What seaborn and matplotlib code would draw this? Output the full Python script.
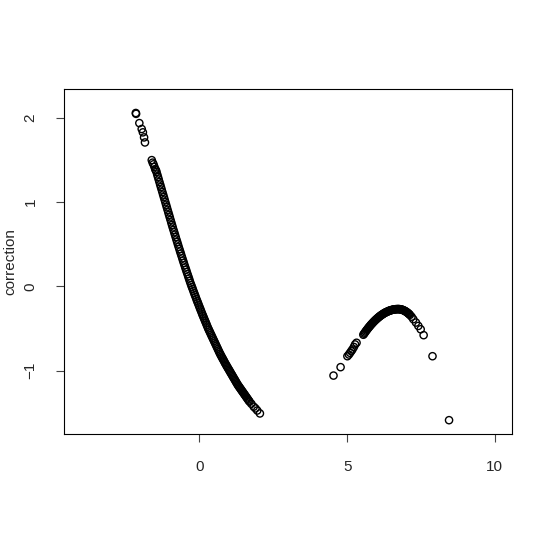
import numpy as np
import pandas as pd
import matplotlib
matplotlib.use("Agg")
import matplotlib.pyplot as plt
import seaborn as sns

# left branch: sparse top, dense band, sparse tail
x_left = [-2.15, -2.14, -2.03, -1.95, -1.91, -1.87, -1.84,
          -1.61, -1.58, -1.55, -1.52, -1.49, -1.47,
          -1.450, -1.425, -1.400, -1.375, -1.350, -1.325, -1.300, -1.275, -1.250, -1.225,
          -1.200, -1.175, -1.150, -1.125, -1.100, -1.075, -1.050, -1.025, -1.000, -0.975,
          -0.950, -0.925, -0.900, -0.875, -0.850, -0.825, -0.800, -0.775, -0.750, -0.725,
          -0.700, -0.675, -0.650, -0.625, -0.600, -0.575, -0.550, -0.525, -0.500, -0.475,
          -0.450, -0.425, -0.400, -0.375, -0.350, -0.325, -0.300, -0.275, -0.250, -0.225,
          -0.200, -0.175, -0.150, -0.125, -0.100, -0.075, -0.050, -0.025, 0.000, 0.025,
          0.050, 0.075, 0.100, 0.125, 0.150, 0.175, 0.200, 0.225, 0.250, 0.275,
          0.300, 0.325, 0.350, 0.375, 0.400, 0.425, 0.450, 0.475, 0.500, 0.525,
          0.550, 0.575, 0.600, 0.625, 0.650, 0.675, 0.700, 0.725, 0.750, 0.775,
          0.800, 0.825, 0.850, 0.875, 0.900, 0.925, 0.950, 0.975, 1.000, 1.025,
          1.050, 1.075, 1.100, 1.125, 1.150, 1.175, 1.200, 1.225, 1.250, 1.275,
          1.300, 1.325, 1.350, 1.375, 1.400, 1.425, 1.450, 1.475, 1.500, 1.525,
          1.550, 1.575, 1.600, 1.625, 1.650, 1.675, 1.700,
          1.76, 1.84, 1.90, 1.96, 2.05]
y_left = [2.06, 2.05, 1.94, 1.87, 1.83, 1.77, 1.71,
          1.50, 1.47, 1.45, 1.42, 1.39, 1.38,
          1.360, 1.330, 1.300, 1.270, 1.240, 1.210, 1.180, 1.150, 1.120, 1.090,
          1.060, 1.030, 1.000, 0.970, 0.940, 0.910, 0.880, 0.850, 0.820, 0.790,
          0.760, 0.730, 0.700, 0.671, 0.643, 0.614, 0.585, 0.556, 0.528, 0.499,
          0.470, 0.443, 0.415, 0.388, 0.360, 0.333, 0.305, 0.278, 0.250, 0.224,
          0.198, 0.171, 0.145, 0.119, 0.093, 0.066, 0.040, 0.016, -0.008, -0.031,
          -0.055, -0.079, -0.103, -0.126, -0.150, -0.173, -0.195, -0.218, -0.240, -0.263,
          -0.285, -0.308, -0.330, -0.351, -0.373, -0.394, -0.415, -0.436, -0.458, -0.479,
          -0.500, -0.519, -0.538, -0.556, -0.575, -0.594, -0.613, -0.631, -0.650, -0.669,
          -0.688, -0.706, -0.725, -0.744, -0.763, -0.781, -0.800, -0.816, -0.833, -0.849,
          -0.865, -0.881, -0.898, -0.914, -0.930, -0.945, -0.960, -0.975, -0.990, -1.005,
          -1.020, -1.035, -1.050, -1.065, -1.080, -1.095, -1.110, -1.125, -1.140, -1.155,
          -1.170, -1.183, -1.195, -1.208, -1.220, -1.233, -1.245, -1.258, -1.270, -1.283,
          -1.295, -1.308, -1.320, -1.333, -1.345, -1.358, -1.370,
          -1.395, -1.43, -1.45, -1.475, -1.51]

# right branch: sparse start, dense arc, sparse tail, outliers
x_right = [4.54, 4.78, 5.01, 5.06, 5.10, 5.14, 5.18, 5.23, 5.27, 5.32,
           5.550, 5.575, 5.600, 5.625, 5.650, 5.675, 5.700, 5.725, 5.750, 5.775,
           5.800, 5.825, 5.850, 5.875, 5.900, 5.925, 5.950, 5.975, 6.000, 6.025,
           6.050, 6.075, 6.100, 6.125, 6.150, 6.175, 6.200, 6.225, 6.250, 6.275,
           6.300, 6.325, 6.350, 6.375, 6.400, 6.425, 6.450, 6.475, 6.500, 6.525,
           6.550, 6.575, 6.600, 6.625, 6.650, 6.675, 6.700, 6.725, 6.750, 6.775,
           6.800, 6.825, 6.850, 6.875, 6.900, 6.925, 6.950, 6.975, 7.000, 7.025,
           7.050, 7.075, 7.100, 7.125,
           7.18, 7.24, 7.33, 7.41, 7.49, 7.59, 7.89, 8.45]
y_right = [-1.06, -0.96, -0.83, -0.81, -0.79, -0.77, -0.75, -0.72, -0.69, -0.67,
           -0.575, -0.562, -0.550, -0.537, -0.525, -0.514, -0.502, -0.491, -0.480, -0.470,
           -0.459, -0.449, -0.440, -0.430, -0.421, -0.412, -0.403, -0.395, -0.387, -0.379,
           -0.371, -0.364, -0.357, -0.350, -0.344, -0.337, -0.332, -0.326, -0.320, -0.315,
           -0.310, -0.306, -0.302, -0.298, -0.294, -0.290, -0.287, -0.284, -0.282, -0.279,
           -0.277, -0.275, -0.274, -0.272, -0.271, -0.271, -0.270, -0.270, -0.270, -0.271,
           -0.272, -0.274, -0.276, -0.279, -0.283, -0.287, -0.291, -0.296, -0.302, -0.308,
           -0.315, -0.322, -0.330, -0.339,
           -0.36, -0.39, -0.43, -0.47, -0.51, -0.58, -0.83, -1.59]

x_ticks = [0, 5, 10]
y_ticks = [-1, 0, 1, 2]

df = pd.DataFrame({"x": x_left + x_right, "correction": y_left + y_right})

sns.set_style("white")
plt.rcParams['font.family'] = ['Liberation Sans', 'DejaVu Sans']

fig = plt.figure(figsize=(5.45, 5.45), dpi=100)
ax = fig.add_axes([0.1174, 0.2037, 0.8215, 0.6336])

sns.scatterplot(data=df, x="x", y="correction", ax=ax, marker="o", s=27,
                facecolor="none", edgecolor="black", linewidth=1.0)

ax.set_xlim(-4.58, 10.57)
ax.set_ylim(-1.754, 2.349)
ax.set_xticks(x_ticks)
ax.set_yticks(y_ticks)
ax.set_yticklabels([str(v).replace("-", "\u2212") for v in y_ticks],
                   rotation=90, va="center")
ax.set_xlabel("")
ax.set_ylabel("correction", fontsize=11)
ax.yaxis.set_label_coords(-0.104, 0.5)

for side in ax.spines.values():
    side.set_visible(True)
    side.set_color("black")
    side.set_linewidth(0.8)

ax.tick_params(axis="both", direction="out", length=6, width=0.8, color="#444444",
               labelsize=11, left=True, bottom=True)
ax.tick_params(axis="x", pad=13)
ax.tick_params(axis="y", pad=13)

fig.savefig("out.png", dpi=100, facecolor="white")
